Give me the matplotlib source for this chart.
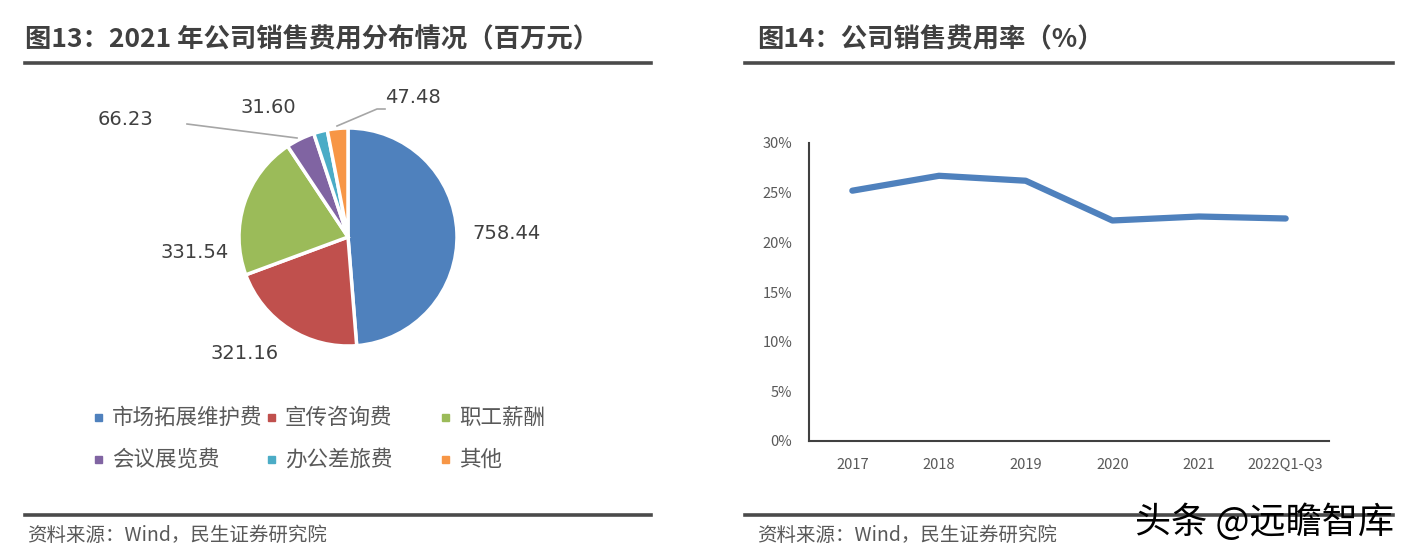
import matplotlib
matplotlib.use("Agg")
import matplotlib.pyplot as plt
from matplotlib.lines import Line2D
import matplotlib.patches as mpatches

plt.rcParams["font.family"] = ["Noto Sans CJK SC", "DejaVu Sans"]

# 图13 数据
pie_labels = ["市场拓展维护费", "宣传咨询费", "职工薪酬", "会议展览费", "办公差旅费", "其他"]
pie_values = [758.44, 321.16, 331.54, 66.23, 31.60, 47.48]
pie_colors = ["#4F81BD", "#C0504D", "#9BBB59", "#8064A2", "#4BACC6", "#F79646"]

# 图14 数据
years = ["2017", "2018", "2019", "2020", "2021", "2022Q1-Q3"]
rate = [25.2, 26.7, 26.2, 22.2, 22.6, 22.4]

W, H = 1415, 560
fig = plt.figure(figsize=(W / 100, H / 100), dpi=100)
fig.patch.set_facecolor("white")


def px(x, y):
    return x / W, 1 - y / H


TITLE_C = "#404040"
TEXT_C = "#595959"

# 标题与分隔线
fig.text(*px(25, 40), "图13：2021 年公司销售费用分布情况（百万元）", fontsize=19,
         fontweight="bold", color=TITLE_C, va="center", ha="left")
fig.text(*px(757, 40), "图14：公司销售费用率（%）", fontsize=19,
         fontweight="bold", color=TITLE_C, va="center", ha="left")
for x0, x1 in [(25, 651), (745, 1393)]:
    for y in (63, 515):
        fig.add_artist(Line2D([x0 / W, x1 / W], [1 - y / H, 1 - y / H], color="#4a4a4a", lw=2.6))
fig.text(*px(27, 535), "资料来源：Wind，民生证券研究院", fontsize=14, color=TEXT_C, va="center")
fig.text(*px(757, 535), "资料来源：Wind，民生证券研究院", fontsize=14, color=TEXT_C, va="center")
fig.text(*px(1135, 522), "头条 @远瞻智库", fontsize=26, color="black", va="center", ha="left")

# 饼图
cx, cy, r = 348, 237, 109
ax1 = fig.add_axes([(cx - r) / W, 1 - (cy + r) / H, 2 * r / W, 2 * r / H])
ax1.pie(pie_values, colors=pie_colors, startangle=90, counterclock=False, radius=1,
        wedgeprops=dict(edgecolor="white", linewidth=2.5))
ax1.set_xlim(-1, 1)
ax1.set_ylim(-1, 1)
ax1.axis("off")

lab_pos = [(1.45, 0.03), (-0.95, -1.07), (-1.41, -0.14), (-2.04, 1.08), (-0.73, 1.19), (0.6, 1.28)]
for v, (lx, ly) in zip(pie_values, lab_pos):
    ax1.text(lx, ly, f"{v:.2f}", fontsize=14, color="#404040", ha="center", va="center",
             family=["DejaVu Sans"], clip_on=False)
# 引导线
ax1.plot([(187 - cx) / r, (297 - cx) / r], [(cy - 124) / r, (cy - 138) / r],
         color="#a6a6a6", lw=1.2, clip_on=False)
ax1.plot([(385 - cx) / r, (377 - cx) / r, (337 - cx) / r],
         [(cy - 109) / r, (cy - 109) / r, (cy - 126) / r], color="#a6a6a6", lw=1.2, clip_on=False)

# 图例
leg_pos = [(98, 418), (271, 418), (445, 418), (98, 460), (271, 460), (445, 460)]
for (lx, ly), lab, c in zip(leg_pos, pie_labels, pie_colors):
    fig.add_artist(mpatches.Rectangle((lx / W - 3 / W, 1 - ly / H - 3 / H), 7 / W, 7 / H,
                                      color=c, transform=fig.transFigure))
    fig.text((lx + 14) / W, 1 - ly / H, lab, fontsize=15.5, color=TEXT_C, va="center", ha="left")

# 折线图
ax2 = fig.add_axes([809 / W, 1 - 441 / H, (1329 - 809) / W, (441 - 143) / H])
ax2.plot(range(len(years)), rate, color="#4F81BD", lw=4.5, solid_capstyle="round",
         solid_joinstyle="round")
ax2.set_xlim(-0.5, len(years) - 0.5)
ax2.set_ylim(0, 30)
ax2.set_yticks(range(0, 31, 5))
ax2.set_yticklabels([f"{v}%" for v in range(0, 31, 5)])
ax2.set_xticks(range(len(years)))
ax2.set_xticklabels(years)
for s in ("top", "right"):
    ax2.spines[s].set_visible(False)
for s in ("left", "bottom"):
    ax2.spines[s].set_color("#404040")
    ax2.spines[s].set_linewidth(1.5)
ax2.tick_params(axis="both", length=0, labelsize=10.5, colors=TEXT_C)
ax2.tick_params(axis="x", pad=12)
ax2.tick_params(axis="y", pad=12)

fig.savefig("out.png", dpi=100, facecolor="white")
